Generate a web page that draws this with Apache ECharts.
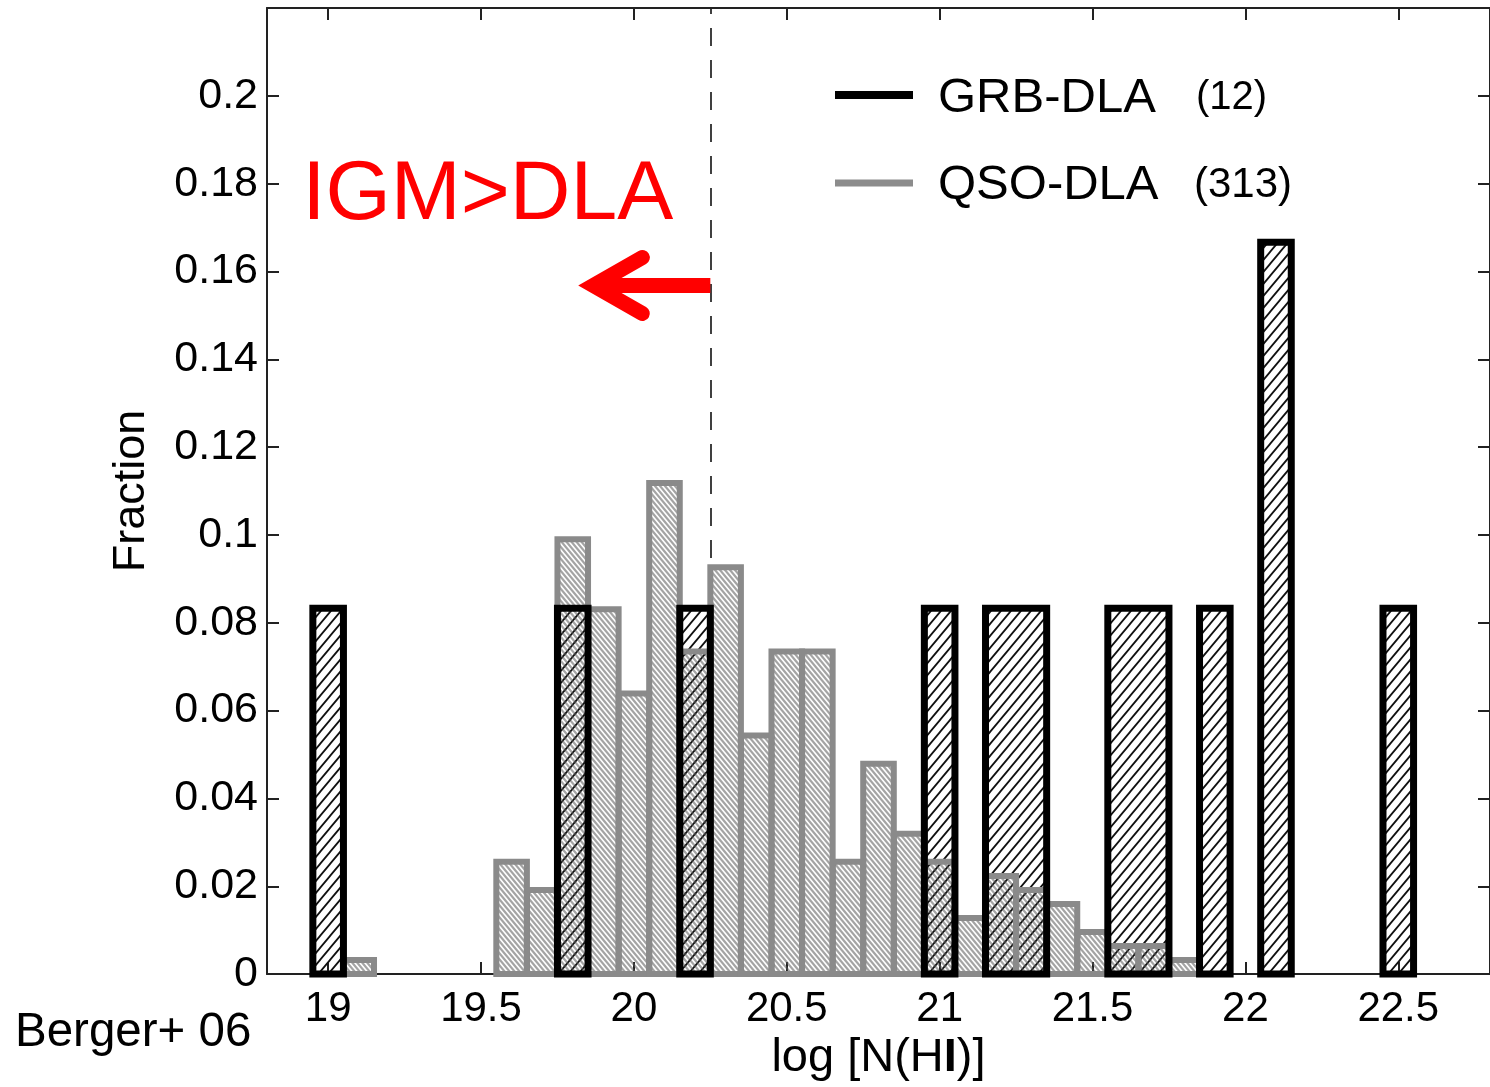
<!DOCTYPE html>
<html>
<head>
<meta charset="utf-8">
<title>GRB-DLA vs QSO-DLA column densities</title>
<script src="https://cdn.jsdelivr.net/npm/echarts@6/dist/echarts.min.js"></script>
<style>
  html, body { margin: 0; padding: 0; background: #ffffff; }
  #chart { width: 1490px; height: 1087px; }
</style>
</head>
<body>
<div id="chart"></div>
<script>
// ---- data: histogram of log N(HI), bins of width 0.1 (given by bin centre) ----
const binWidth = 0.1;

const grbBins   = [19.0, 19.8, 20.2, 21.0, 21.2, 21.3, 21.6, 21.7, 21.9, 22.1, 22.5];
const grbCounts = [1, 1, 1, 1, 1, 1, 1, 1, 1, 2, 1];
const grbTotal  = 12;

const qsoBins   = [19.1, 19.6, 19.7, 19.8, 19.9, 20.0, 20.1, 20.2, 20.3, 20.4, 20.5, 20.6,
                   20.7, 20.8, 20.9, 21.0, 21.1, 21.2, 21.3, 21.4, 21.5, 21.6, 21.7, 21.8];
const qsoCounts = [1, 8, 6, 31, 26, 20, 35, 23, 29, 17, 23, 23,
                   8, 15, 10, 8, 4, 7, 6, 5, 3, 2, 2, 1];
const qsoTotal  = 313;

const xTicks = [19, 19.5, 20, 20.5, 21, 21.5, 22, 22.5];
const yTicks = [0, 0.02, 0.04, 0.06, 0.08, 0.1, 0.12, 0.14, 0.16, 0.18, 0.2];

const dlaThreshold = 20.25;   // log N(HI) separating IGM-dominated and DLA absorbers

// ---- fill patterns ----
function hatch(w, h, lineWidth, color, backslash) {
  const c = document.createElement('canvas');
  c.width = w; c.height = h;
  const g = c.getContext('2d');
  g.strokeStyle = color;
  g.lineWidth = lineWidth;
  g.lineCap = 'butt';
  g.beginPath();
  for (let k = -1; k <= 1; k++) {
    const x0 = k * w;
    if (backslash) {
      g.moveTo(x0 - 0.5 * w, -0.5 * h);
      g.lineTo(x0 + 1.5 * w, 1.5 * h);
    } else {
      g.moveTo(x0 - 0.5 * w, 1.5 * h);
      g.lineTo(x0 + 1.5 * w, -0.5 * h);
    }
  }
  g.stroke();
  return { image: c, repeat: 'repeat' };
}
const grbPattern = hatch(10, 12, 1.8, '#111111', false);
const qsoPattern = hatch(5, 6, 2.2, 'rgba(90,90,90,0.55)', true);

// ---- build bar rectangles [lo, hi, fraction] ----
// neighbouring GRB bins of equal height are drawn as one outlined block
const grbRuns = [];
grbBins.forEach((c, i) => {
  const f = grbCounts[i] / grbTotal;
  const last = grbRuns[grbRuns.length - 1];
  if (last && Math.abs(last[1] - (c - binWidth / 2)) < 1e-6 && Math.abs(last[2] - f) < 1e-9) {
    last[1] = c + binWidth / 2;
  } else {
    grbRuns.push([c - binWidth / 2, c + binWidth / 2, f]);
  }
});
const qsoRects = qsoBins.map((c, i) => [c - binWidth / 2, c + binWidth / 2, qsoCounts[i] / qsoTotal]);

function rectShape(api) {
  const p0 = api.coord([api.value(0), api.value(2)]);
  const p1 = api.coord([api.value(1), 0]);
  return { x: p0[0], y: p0[1], width: p1[0] - p0[0], height: p1[1] - p0[1] };
}

const FONT = '"Liberation Sans", Arial, Helvetica, sans-serif';
const axisColor = '#222222';

const chart = echarts.init(document.getElementById('chart'), null, { renderer: 'canvas' });

const xAxisBase = {
  type: 'value', min: 18.8, max: 22.8,
  axisLine: { show: true, onZero: false, lineStyle: { color: axisColor, width: 2 } },
  axisTick: { show: true, inside: true, length: 12, customValues: xTicks, lineStyle: { color: axisColor, width: 2 } },
  splitLine: { show: false }
};
const yAxisBase = {
  type: 'value', min: 0, max: 0.22,
  axisLine: { show: true, onZero: false, lineStyle: { color: axisColor, width: 2 } },
  axisTick: { show: true, inside: true, length: 12, customValues: yTicks, lineStyle: { color: axisColor, width: 2 } },
  splitLine: { show: false }
};

chart.setOption({
  animation: false,
  backgroundColor: '#ffffff',
  grid: { left: 267, top: 8, width: 1230, height: 971, containLabel: false },
  xAxis: [
    Object.assign({}, xAxisBase, {
      position: 'bottom',
      axisLabel: { customValues: xTicks, margin: 14, fontSize: 42, color: '#000', fontFamily: FONT },
      name: 'log [N(H{b|I})]',
      nameLocation: 'middle',
      nameGap: 59,
      nameTextStyle: {
        fontSize: 47, color: '#000', fontFamily: FONT,
        rich: { b: { fontSize: 47, fontWeight: 'bold', color: '#000', fontFamily: FONT } }
      }
    }),
    Object.assign({}, xAxisBase, { position: 'top', axisLabel: { show: false } })
  ],
  yAxis: [
    Object.assign({}, yAxisBase, {
      position: 'left',
      axisLabel: { customValues: yTicks, margin: 9, fontSize: 43, color: '#000', fontFamily: FONT },
      name: 'Fraction',
      nameLocation: 'middle',
      nameGap: 113,
      nameTextStyle: { fontSize: 45, color: '#000', fontFamily: FONT }
    }),
    Object.assign({}, yAxisBase, { position: 'right', axisLabel: { show: false } })
  ],
  series: [
    {
      // GRB-DLA hatched fill
      type: 'custom', name: 'GRB-DLA fill', z: 1,
      data: grbRuns,
      renderItem: (params, api) => ({
        type: 'rect', shape: rectShape(api),
        style: { fill: grbPattern, stroke: null }
      }),
      markLine: {
        silent: true, symbol: 'none', z: 0,
        label: { show: false },
        lineStyle: { color: '#111', width: 1.6, type: [18, 14] },
        data: [{ xAxis: dlaThreshold }]
      }
    },
    {
      // QSO-DLA histogram (grey, drawn over the GRB fill)
      type: 'custom', name: 'QSO-DLA', z: 2,
      data: qsoRects,
      renderItem: (params, api) => ({
        type: 'rect', shape: rectShape(api),
        style: { fill: qsoPattern, stroke: '#8a8a8a', lineWidth: 6 }
      })
    },
    {
      // GRB-DLA outlines
      type: 'custom', name: 'GRB-DLA', z: 3,
      data: grbRuns,
      renderItem: (params, api) => ({
        type: 'rect', shape: rectShape(api),
        style: { fill: null, stroke: '#000', lineWidth: 7, lineJoin: 'miter' }
      })
    }
  ]
});

// ---- annotations: legend, IGM>DLA note with arrow, citation ----
const arrowBase = chart.convertToPixel({ xAxisIndex: 0, yAxisIndex: 0 }, [dlaThreshold, 0.1568]);
const textAnchor = chart.convertToPixel({ xAxisIndex: 0, yAxisIndex: 0 }, [18.915, 0.1773]);
const ax = arrowBase[0], ay = arrowBase[1];
const red = '#ff0000';

chart.setOption({
  graphic: [
    // legend
    { type: 'line', shape: { x1: 835, y1: 95, x2: 913, y2: 95 }, style: { stroke: '#000', lineWidth: 8 } },
    { type: 'line', shape: { x1: 835, y1: 183, x2: 913, y2: 183 }, style: { stroke: '#8c8c8c', lineWidth: 7 } },
    { type: 'text', x: 938, y: 98, style: { text: 'GRB-DLA', font: '49px ' + FONT, fill: '#000', textVerticalAlign: 'middle' } },
    { type: 'text', x: 1196, y: 98, style: { text: '(12)', font: '40px ' + FONT, fill: '#000', textVerticalAlign: 'middle' } },
    { type: 'text', x: 938, y: 185, style: { text: 'QSO-DLA', font: '49px ' + FONT, fill: '#000', textVerticalAlign: 'middle' } },
    { type: 'text', x: 1194, y: 185, style: { text: '(313)', font: '42px ' + FONT, fill: '#000', textVerticalAlign: 'middle' } },
    // IGM>DLA note
    { type: 'text', x: textAnchor[0], y: textAnchor[1], style: { text: 'IGM>DLA', font: '84px ' + FONT, fill: red, textVerticalAlign: 'middle' } },
    { type: 'line', shape: { x1: ax, y1: ay, x2: ax - 116, y2: ay }, style: { stroke: red, lineWidth: 15, lineCap: 'butt' } },
    { type: 'polyline', shape: { points: [[ax - 68, ay - 28], [ax - 117, ay], [ax - 68, ay + 28]] },
      style: { stroke: red, lineWidth: 15, lineCap: 'round', lineJoin: 'miter', fill: null } },
    // citation
    { type: 'text', x: 15, y: 1033, style: { text: 'Berger+ 06', font: '47.5px ' + FONT, fill: '#000', textVerticalAlign: 'middle' } }
  ]
});
</script>
</body>
</html>
